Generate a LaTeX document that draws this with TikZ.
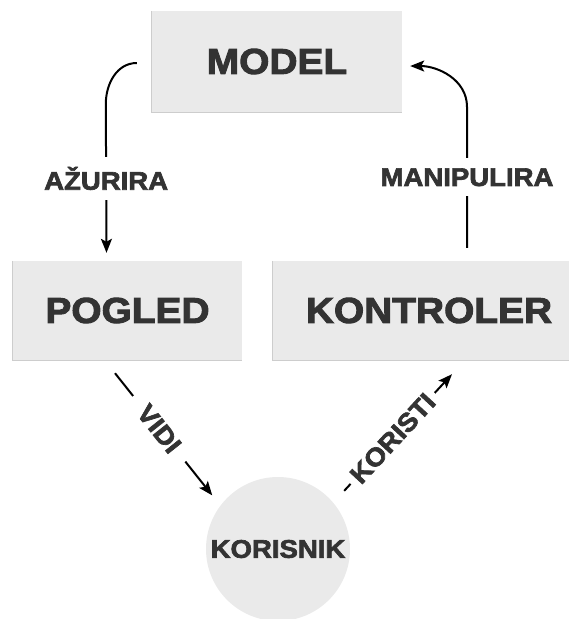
\documentclass[tikz,border=0pt]{standalone}
\usepackage{fontspec}
\setmainfont{Liberation Sans}
\newfontfamily\heavyfont{Liberation Sans Bold}[FakeBold=2.6,FakeStretch=1.08]
\usetikzlibrary{arrows.meta}
\definecolor{boxgray}{HTML}{EAEAEA}
\definecolor{inkgray}{HTML}{333333}
\definecolor{edgegray}{HTML}{CDCDCD}

\begin{document}
\begin{tikzpicture}[x=1pt,y=-1pt,
  every node/.style={text=inkgray},
  part/.style={fill=boxgray, minimum height=99pt, font=\heavyfont\fontsize{36}{36}\selectfont},
  user/.style={circle, fill=boxgray, minimum size=144pt, inner sep=0pt, font=\heavyfont\fontsize{25.5}{25.5}\selectfont},
  flow/.style={line width=2pt, -{Stealth[length=14pt,width=11pt,inset=3pt]}},
  lbl/.style={fill=white, inner xsep=4pt, inner ysep=10pt, font=\heavyfont\fontsize{25.5}{25.5}\selectfont}]
\useasboundingbox (0,0) rectangle (569,619);

\node[part, minimum width=250pt, minimum height=101pt] (model) at (277,61.5) {MODEL};
\node[part, minimum width=229pt] (pogled) at (127.5,310.5) {POGLED};
\node[part, minimum width=312pt] (kontroler) at (429,310.5) {KONTROLER};
\node[user] (korisnik) at (278,549) {KORISNIK};

% box edges
\foreach \n in {model,pogled,kontroler}
  \draw[edgegray, line width=1pt] (\n.north west) -- (\n.south west) -- (\n.south east);

\draw[flow] ([xshift=-15pt,yshift=-1.5pt]model.west) to[out=180,in=90] ++(-31,41)
  -- node[lbl]{AŽURIRA} ([xshift=-21pt,yshift=8pt]pogled.north);
\draw[flow] ([xshift=38pt,yshift=13pt]kontroler.north) -- node[lbl]{MANIPULIRA} ++(0,-141)
  to[out=90,in=0] ([xshift=8pt,yshift=-4.5pt]model.east);

\draw[flow, shorten >=13pt] ([xshift=-12.5pt,yshift=-13pt]pogled.south)
  -- node[lbl, sloped, pos=0.42, inner xsep=15pt, inner ysep=2pt]{VIDI} (korisnik.143);
\draw[flow, shorten <=16pt] (korisnik.40)
  -- node[lbl, sloped, inner xsep=6pt, inner ysep=2pt]{KORISTI} ([xshift=23pt,yshift=-14pt]kontroler.south);
\end{tikzpicture}
\end{document}
